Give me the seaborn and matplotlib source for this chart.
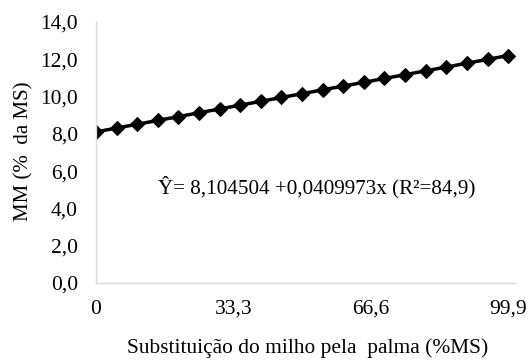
import matplotlib
matplotlib.use("Agg")
import matplotlib.pyplot as plt
import seaborn as sns
import pandas as pd

x_vals = [0, 4.995, 9.99, 14.985, 19.98, 24.975, 29.97, 34.965, 39.96, 44.955, 49.95,
          54.945, 59.94, 64.935, 69.93, 74.925, 79.92, 84.915, 89.91, 94.905, 99.9]
y_vals = [8.10, 8.31, 8.51, 8.72, 8.92, 9.13, 9.33, 9.54, 9.74, 9.95, 10.15,
          10.36, 10.56, 10.76, 10.97, 11.17, 11.38, 11.58, 11.79, 11.99, 12.20]
x_ticks = [0, 33.3, 66.6, 99.9]
x_ticklabels = ["0", "33,3", "66,6", "99,9"]
y_ticks = [0, 2, 4, 6, 8, 10, 12, 14]
y_ticklabels = ["0,0", "2,0", "4,0", "6,0", "8,0", "10,0", "12,0", "14,0"]

df = pd.DataFrame({"x": x_vals, "y": y_vals})

sns.set_theme(style="white")
plt.rcParams['font.family'] = ['Liberation Serif', 'DejaVu Serif']

fig = plt.figure(figsize=(5.3, 3.6), dpi=100)
ax = fig.add_axes([0.181, 0.214, 0.791, 0.725])
sns.lineplot(data=df, x="x", y="y", ax=ax, color="black", linewidth=2.5,
             marker="D", markersize=7, markeredgecolor="black", markerfacecolor="black")

ax.set_xlim(0, 101.6)
ax.set_ylim(0, 14)
ax.set_xticks(x_ticks)
ax.set_xticklabels(x_ticklabels)
ax.set_yticks(y_ticks)
ax.set_yticklabels(y_ticklabels)
ax.tick_params(axis='both', length=0, labelsize=15.5, colors='black')
ax.tick_params(axis='x', pad=12)
ax.tick_params(axis='y', pad=13)
for s in ["top", "right"]:
    ax.spines[s].set_visible(False)
for s in ["left", "bottom"]:
    ax.spines[s].set_color("#d9d9d9")
    ax.spines[s].set_linewidth(1)

ax.set_xlabel("Substituição do milho pela  palma (%MS)", fontsize=15.4, color='black')
ax.xaxis.set_label_coords(0.506, -0.212)
ax.set_ylabel("MM (%  da MS)", fontsize=15, color='black')
ax.yaxis.set_label_coords(-0.15, 0.506)

ax.text(53.6, 5.15, "Ŷ= 8,104504 +0,0409973x (R²=84,9)", fontsize=15.2, ha='center', va='center',
        color='black')

fig.savefig("out.png", dpi=100)
